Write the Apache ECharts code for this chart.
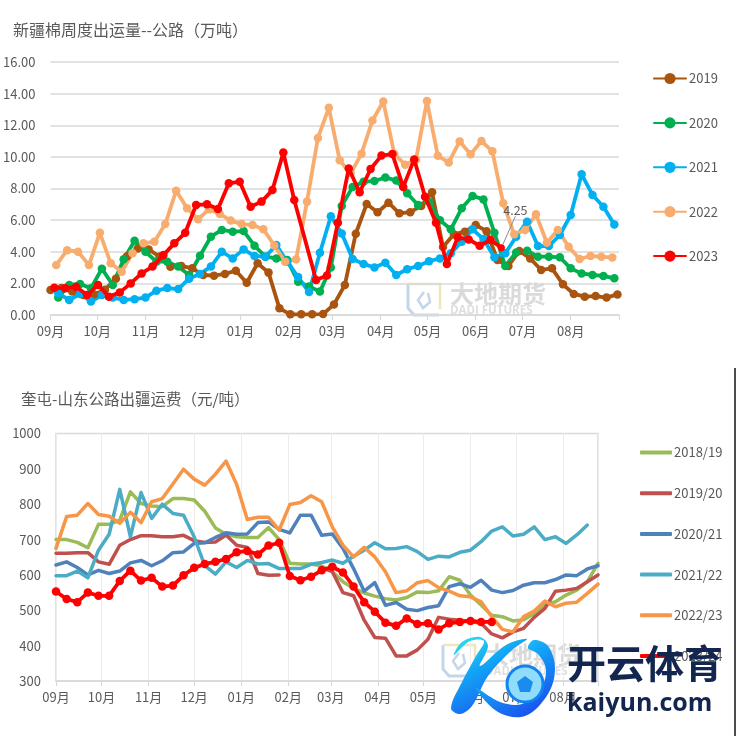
<!DOCTYPE html>
<html><head><meta charset="utf-8">
<style>html,body{margin:0;padding:0;background:#fff}#c{width:737px;height:736px}</style>
<script src="https://cdn.jsdelivr.net/npm/echarts@6/dist/echarts.min.js"></script>
</head><body><div id="c"></div>
<script>
const monthDays=[0,30,61,91,122,153,181,212,242,273,303,334];
const monthNames=['09月','10月','11月','12月','01月','02月','03月','04月','05月','06月','07月','08月'];

const y2019=[1.58,1.7,1.48,1.26,1.3,1.6,2.3,3.7,4.2,4.15,3.7,3.05,3.1,2.95,2.53,2.49,2.6,2.8,2.04,3.27,2.68,0.42,0.04,0.04,0.04,0.06,0.67,1.9,5.14,7.02,6.5,7.1,6.43,6.5,6.9,7.76,4.3,5.1,5.27,5.69,5.3,3.48,3.1,4.05,3.58,2.85,2.95,1.94,1.33,1.16,1.2,1.1,1.3];
const y2020=[1.1,1.9,1.96,1.69,2.93,1.9,3.52,4.7,4.0,3.37,3.37,3.06,2.53,3.75,4.95,5.38,5.27,5.31,4.38,3.69,3.58,3.48,2.1,1.8,1.48,3.0,6.9,8.1,8.43,8.47,8.7,8.5,7.7,6.96,7.17,6.0,5.42,6.75,7.53,7.31,5.2,3.1,3.96,4.07,3.69,3.69,3.65,2.95,2.63,2.53,2.47,2.32];
const y2021=[1.37,0.95,1.33,0.85,1.26,1.1,0.95,1.0,1.1,1.54,1.7,1.64,2.3,2.6,3.06,4.0,3.58,4.15,3.73,3.69,4.43,3.37,2.4,1.45,3.94,6.25,5.16,3.54,3.23,3.0,3.3,2.53,2.9,3.1,3.4,3.58,3.9,4.64,5.42,4.8,3.65,3.9,4.95,5.9,4.36,4.36,5.06,6.32,8.9,7.59,6.85,5.73];
const y2022=[3.16,4.1,4.0,3.16,5.2,3.27,2.74,3.9,4.53,4.64,5.75,7.86,6.75,6.05,6.68,6.39,5.97,5.75,5.69,5.42,4.4,3.37,3.52,7.17,11.2,13.1,9.78,8.96,10.2,12.3,13.5,10.2,9.5,9.84,13.53,10.07,9.65,10.98,10.16,11.0,10.35,7.06,5.1,5.38,6.37,4.57,5.38,4.32,3.54,3.73,3.69,3.63];
const y2023=[1.73,1.69,1.79,1.26,1.9,1.16,1.43,2.0,2.63,3.06,3.79,4.53,5.2,6.96,7.0,6.7,8.33,8.43,6.85,7.17,7.9,10.27,7.27,null,2.21,2.5,5.84,9.27,7.76,9.23,10.08,10.18,8.1,9.84,7.48,5.84,3.22,4.91,4.78,4.38,4.74,4.25];

const f1819=[700,700,692,677,743,743,755,835,802,795,793,816,816,812,780,733,715,708,706,706,734,700,633,631,631,625,609,581,562,549,540,533,529,536,552,550,555,595,585,543,515,486,482,470,473,491,515,524,543,557,581,633];
const f1920=[661,661,663,663,637,630,684,700,711,711,708,708,712,697,692,693,713,684,678,604,599,600,null,null,null,621,609,550,541,472,423,421,371,371,388,418,480,475,472,468,463,433,422,439,449,480,505,554,557,562,581,600];
const f2021=[628,637,621,600,613,604,611,634,641,626,640,663,665,689,691,706,719,715,716,748,750,729,719,769,769,712,716,675,618,554,578,514,522,503,499,508,513,567,575,565,585,557,550,556,571,578,578,587,600,598,617,626];
const f2122=[598,598,611,592,670,715,842,708,833,760,800,774,769,708,626,602,637,621,641,631,632,618,618,618,630,635,642,633,653,670,691,674,675,680,666,644,653,651,664,670,694,724,736,710,715,736,700,708,689,713,741];
const f2223=[675,765,769,802,771,766,746,777,748,807,816,857,899,871,854,885,922,856,757,763,763,727,799,805,824,807,736,684,651,678,651,609,550,555,578,584,564,554,541,538,524,482,446,439,482,498,526,510,520,523,548,574];
const fRed=[553,532,523,550,541,541,583,612,584,592,567,570,599,620,631,637,645,664,668,658,683,691,597,585,595,613,623,607,567,523,496,465,456,477,461,463,446,463,467,470,467,467];

const FONT='"Noto Sans CJK SC","Noto Sans",sans-serif';
const TXT='#595959';
const pts=(start,vals)=>vals.map((v,i)=>[start+i*7,v]);

function mk(name,color,start,vals,idx,marker,extra){
  return Object.assign({
    name,type:'line',xAxisIndex:idx,yAxisIndex:idx,data:pts(start,vals),
    showSymbol:marker,symbol:marker?'circle':'none',symbolSize:marker?8.5:0,
    connectNulls:false,animation:false,
    lineStyle:{color,width:marker?3.8:3.5,cap:'round',join:'round'},
    itemStyle:{color,borderWidth:0}
  },extra||{});
}
const red23=mk('2023','#ff0000',2.5,y2023,0,true);
red23.connectNulls=true;
red23.z=8;
red23.data[41]={value:red23.data[41],symbolSize:7,
  label:{show:true,formatter:'4.25',color:TXT,fontSize:12.5,fontFamily:FONT,position:'top'},
  labelLine:{show:true,lineStyle:{color:'#8c8c8c',width:1}}};
red23.labelLayout=p=>p.dataIndex===41?{dx:14,dy:-23}:{};
red23.labelLine={show:true,lineStyle:{color:'#8c8c8c',width:1}};

const series=[
 mk('2019','#a9540f',0,y2019,0,true),
 mk('2020','#00b050',5,y2020,0,true),
 mk('2021','#00b0f0',5,y2021,0,true),
 mk('2022','#f8ad6e',3.7,y2022,0,true),
 red23,
 mk('2018/19','#9bbb59',0,f1819,1,false),
 mk('2019/20','#c0504d',0,f1920,1,false),
 mk('2020/21','#4f81bd',0,f2021,1,false),
 mk('2021/22','#4bacc6',0,f2122,1,false),
 mk('2022/23','#f79646',0,f2223,1,false),
 mk('2023/24','#ff0000',0,fRed,1,true)
];

function xAx(gi,max,vGrid){
  return {type:'value',gridIndex:gi,min:0,max,
    axisLine:{show:true,lineStyle:{color:'#d9d9d9',width:1.5}},
    axisTick:{show:true,length:5,customValues:monthDays.concat([max]),lineStyle:{color:'#d9d9d9',width:1.2}},
    axisLabel:{customValues:monthDays,color:TXT,fontSize:13,fontFamily:FONT,margin:10,
      formatter:v=>monthNames[monthDays.indexOf(v)]||''},
    splitLine:{show:vGrid,lineStyle:{color:'#ececec',width:1}}};
}
function yAx(gi,min,max,interval,fmt,hGrid){
  return {type:'value',gridIndex:gi,min,max,interval,
    axisLine:{show:false},axisTick:{show:false},
    axisLabel:{color:TXT,fontSize:13,fontFamily:FONT,margin:15,formatter:fmt},
    splitLine:{show:hGrid,lineStyle:{color:'#d9d9d9',width:1.5}}};
}
const wm=(x,y)=>[
 {type:'polyline',z:0,shape:{points:[[x+1,y+2],[x+1,y+26],[x+7,y+33],[x+32,y+33]]},style:{stroke:'#c5d5ea',fill:'none',lineWidth:3}},
 {type:'polyline',z:0,shape:{points:[[x+1,y+2],[x+33,y+2],[x+33,y+27]]},style:{stroke:'#f0e6bd',fill:'none',lineWidth:2.5}},
 {type:'polyline',z:0,shape:{points:[[x+17,y+10],[x+11,y+18],[x+16,y+26],[x+23,y+20],[x+21,y+11]]},style:{stroke:'#c5d5ea',fill:'none',lineWidth:2.5}},
 {type:'text',z:0,x:x+43,y:y,style:{text:'大地期货',fill:'#dadada',fontSize:24,fontWeight:'bold',fontFamily:FONT}},
 {type:'text',z:0,x:x+43,y:y+23,style:{text:'DADI FUTURES',fill:'#dfdfdf',fontSize:11.5,fontWeight:'bold',fontFamily:'"Open Sans",sans-serif',letterSpacing:1.4}}
];
const kGrad={type:'linear',x:0,y:0,x2:0.6,y2:1,colorStops:[{offset:0,color:'#35e6ea'},{offset:0.45,color:'#12a6f6'},{offset:1,color:'#1a55ee'}]};

const option={
 backgroundColor:'#fff',animation:false,
 grid:[{left:49,top:62,width:570,height:253},{left:56,top:433.5,width:542,height:247.5,show:true,borderColor:'#d9d9d9',borderWidth:1.5}],
 xAxis:[xAx(0,365,false),xAx(1,357,true)],
 yAxis:[yAx(0,0,16,2,v=>v.toFixed(2),true),yAx(1,300,1000,100,v=>String(v),false)],
 legend:[
  {data:['2019','2020','2021','2022','2023'],orient:'vertical',left:653,top:72,padding:0,itemWidth:32,itemHeight:14,itemGap:31.4,textStyle:{color:TXT,fontSize:13,fontFamily:FONT,padding:[0,0,0,-2]}},
  {data:['2018/19','2019/20','2020/21','2021/22','2022/23','2023/24'].map(n=>({name:n,icon:'roundRect'})),orient:'vertical',left:640,top:446,padding:0,itemWidth:32,itemHeight:4,itemGap:27.7,textStyle:{color:TXT,fontSize:13,fontFamily:FONT,padding:[0,0,0,-3]}}
 ],
 series,
 graphic:[
  {type:'text',left:13,top:22,style:{text:'新疆棉周度出运量--公路（万吨）',fill:TXT,fontSize:16,fontFamily:FONT}},
  {type:'text',left:21,top:391,style:{text:'奎屯-山东公路出疆运费（元/吨）',fill:TXT,fontSize:15.5,fontFamily:FONT}},
  ...wm(407,282),...wm(442,643),
  {type:'line',z:60,shape:{x1:735,y1:368,x2:735,y2:736},style:{stroke:'#111',lineWidth:1.5}},
  {type:'polygon',z:50,shape:{smooth:0.35,points:[[454,655],[470,641],[484,641],[476,656],[462,682],[451,708],[460,714],[472,706],[488,676],[512,650],[527,639],[506,645],[480,666],[488,646],[480,637],[462,642]]},style:{fill:kGrad}},
  {type:'polygon',z:50,shape:{smooth:0.35,points:[[476,688],[498,712],[525,716],[548,694],[555,668],[548,646],[534,640],[528,648],[538,654],[546,670],[540,690],[522,704],[500,702]]},style:{fill:kGrad}},
  {type:'circle',z:51,shape:{cx:525,cy:684,r:18},style:{fill:'#8fdcfb',stroke:'#1283f0',lineWidth:3}},
  {type:'polygon',z:52,shape:{points:[[525,676],[533,682],[530,692],[520,692],[517,682]]},style:{fill:'#1a8cf0'}},
  {type:'text',z:52,x:567,y:644,style:{text:'开云体育',fill:'#12264f',fontSize:39,fontWeight:'bold',fontFamily:FONT}},
  {type:'text',z:52,x:567,y:691,style:{text:'kaiyun.com',fill:'#12264f',fontSize:25,fontWeight:'bold',fontFamily:'"Open Sans",sans-serif',letterSpacing:3}}
 ]
};
const chart=echarts.init(document.getElementById('c'),null,{renderer:'canvas'});
chart.setOption(option);
</script></body></html>
